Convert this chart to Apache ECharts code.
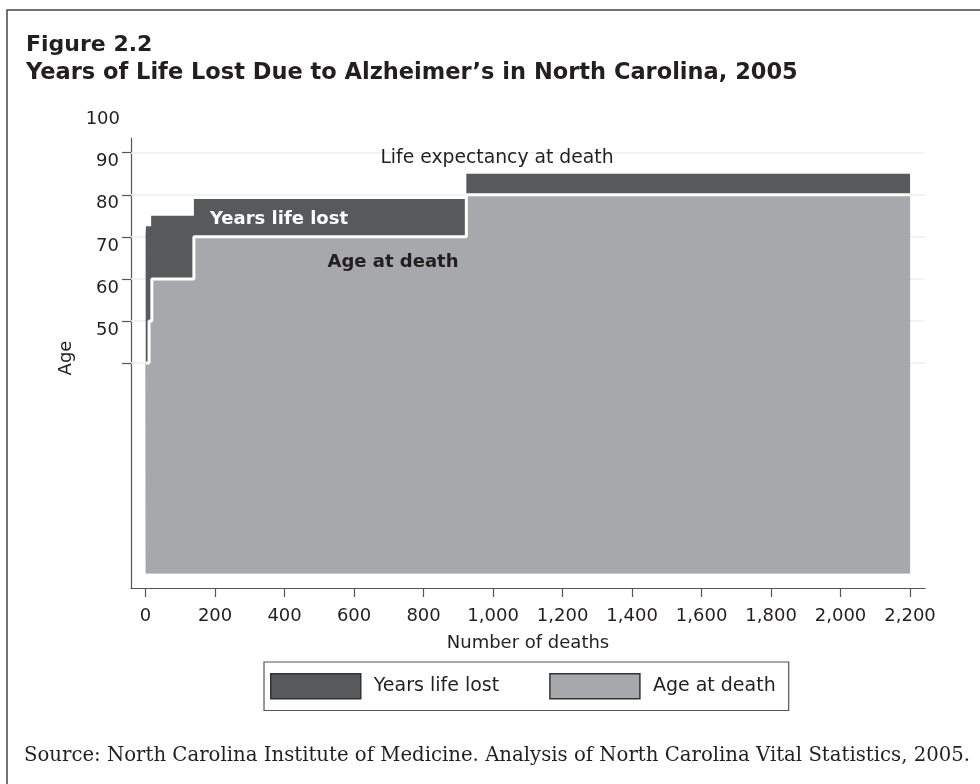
<!DOCTYPE html>
<html>
<head>
<meta charset="utf-8">
<script src="https://cdn.jsdelivr.net/npm/echarts@6/dist/echarts.min.js"></script>
<style>
  html, body { margin: 0; padding: 0; background: #fff; }
  #chart { width: 980px; height: 784px; }
</style>
</head>
<body>
<div id="chart"></div>
<script>
// 数据：累计死亡人数（x）与年龄（y），阶梯图
const ageX = [0, 10, 18, 139, 923, 2200]
const ageAtDeath = [40, 50, 60, 70, 80, 80]
const lifeX = [0, 1, 16, 139, 923, 2200]
const lifeExpectancy = [70.5, 72.5, 75, 79, 85, 85]
const xTicks = [0, 200, 400, 600, 800, 1000, 1200, 1400, 1600, 1800, 2000, 2200]
const yTicks = [40, 50, 60, 70, 80, 90]
const yLabels = [50, 60, 70, 80, 90]
const topLabel = 100

const DARK = '#58595b'
const GRAY = '#a7a8ab'
const INK = '#231f20'
const SANS = 'DejaVu Sans'

const myChart = echarts.init(document.getElementById('chart'))

const option = {
  animation: false,
  backgroundColor: '#fff',
  title: {
    text: 'Figure 2.2',
    subtext: 'Years of Life Lost Due to Alzheimer\u2019s in North Carolina, 2005',
    left: 21,
    top: 29,
    itemGap: 6,
    textStyle: { fontFamily: SANS, fontSize: 22, fontWeight: 'bold', color: INK },
    subtextStyle: { fontFamily: SANS, fontSize: 22.5, fontWeight: 'bold', color: INK },
  },
  grid: { left: 131, right: 55, top: 138, bottom: 196 },
  xAxis: {
    type: 'value',
    min: -42,
    max: 2243,
    name: 'Number of deaths',
    nameLocation: 'middle',
    nameGap: 46,
    nameTextStyle: { fontFamily: SANS, fontSize: 18, color: INK },
    axisLine: { show: true, onZero: false, lineStyle: { color: '#555', width: 1.2 } },
    axisTick: { show: true, length: 9, customValues: xTicks, lineStyle: { color: '#555', width: 1.2 } },
    axisLabel: {
      customValues: xTicks,
      margin: 19,
      fontFamily: SANS,
      fontSize: 18,
      color: INK,
      formatter: (v) => v.toLocaleString('en-US'),
    },
    splitLine: { show: false },
  },
  yAxis: {
    type: 'value',
    min: -13.5,
    max: 93.5,
    name: 'Age',
    nameLocation: 'middle',
    nameGap: 56,
    nameTextStyle: { fontFamily: SANS, fontSize: 18, color: INK, padding: [0, 0, 0, 10] },
    axisLine: { show: true, onZero: false, lineStyle: { color: '#555', width: 1.2 } },
    axisTick: { show: true, length: 9, customValues: yTicks, lineStyle: { color: '#555', width: 1.2 } },
    axisLabel: {
      customValues: yLabels,
      margin: 12,
      verticalAlign: 'top',
      lineHeight: 18,
      fontFamily: SANS,
      fontSize: 18,
      color: INK,
    },
    splitLine: { show: false },
  },
  legend: {
    left: 264,
    top: 662,
    icon: 'rect',
    itemWidth: 90,
    itemHeight: 25,
    itemGap: 50,
    padding: [11, 13, 11, 6],
    borderColor: '#555',
    borderWidth: 1.2,
    textStyle: { fontFamily: SANS, fontSize: 19, color: INK, padding: [0, 0, 0, 8] },
    itemStyle: { borderColor: '#333', borderWidth: 1.5 },
    data: [
      { name: 'Years life lost', itemStyle: { color: DARK } },
      { name: 'Age at death', itemStyle: { color: GRAY } },
    ],
  },
  series: [
    {
      name: 'Years life lost',
      type: 'line',
      step: 'end',
      symbol: 'none',
      z: 3,
      color: DARK,
      lineStyle: { width: 0 },
      areaStyle: { color: DARK, opacity: 1, origin: -10 },
      data: lifeX.map((x, i) => [x, lifeExpectancy[i]]),
      markLine: {
        silent: true,
        z: 1,
        symbol: 'none',
        label: { show: false },
        lineStyle: { color: '#eeeeee', width: 1.5, type: 'solid' },
        data: yTicks.map((v) => ({ yAxis: v })),
      },
    },
    {
      name: 'Age at death',
      type: 'line',
      step: 'end',
      symbol: 'none',
      z: 4,
      color: GRAY,
      lineStyle: { color: '#fff', width: 3 },
      areaStyle: { color: GRAY, opacity: 1, origin: -10 },
      data: ageX.map((x, i) => [x, ageAtDeath[i]]),
    },
  ],
  graphic: [
    {
      type: 'rect',
      shape: { x: 7, y: 10, width: 1200, height: 1000 },
      style: { fill: 'none', stroke: '#444', lineWidth: 1.5 },
      silent: true,
    },
    {
      type: 'text',
      x: 497, y: 158,
      style: { text: 'Life expectancy at death', fill: INK, font: '18.8px ' + SANS, align: 'center', verticalAlign: 'middle' },
      z: 10,
    },
    {
      type: 'text',
      x: 279, y: 219,
      style: { text: 'Years life lost', fill: '#fff', font: 'bold 18px ' + SANS, align: 'center', verticalAlign: 'middle' },
      z: 10,
    },
    {
      type: 'text',
      x: 393, y: 262,
      style: { text: 'Age at death', fill: INK, font: 'bold 18px ' + SANS, align: 'center', verticalAlign: 'middle' },
      z: 10,
    },
    {
      type: 'text',
      x: 24, y: 756,
      style: {
        text: 'Source: North Carolina Institute of Medicine. Analysis of North Carolina Vital Statistics, 2005.',
        fill: INK,
        font: '19.7px "DejaVu Serif"',
        verticalAlign: 'middle',
      },
      z: 10,
    },
  ],
}

myChart.setOption(option, true)

// 100 这个刻度标签在轴线之外，用坐标换算放置
const p = myChart.convertToPixel({ yAxisIndex: 0 }, topLabel)
myChart.setOption({
  graphic: [
    {
      type: 'text',
      id: 'label100',
      x: 120,
      y: p,
      style: { text: String(topLabel), fill: INK, font: '18px ' + SANS, align: 'right', verticalAlign: 'top' },
      z: 10,
    },
  ],
})
</script>
</body>
</html>
